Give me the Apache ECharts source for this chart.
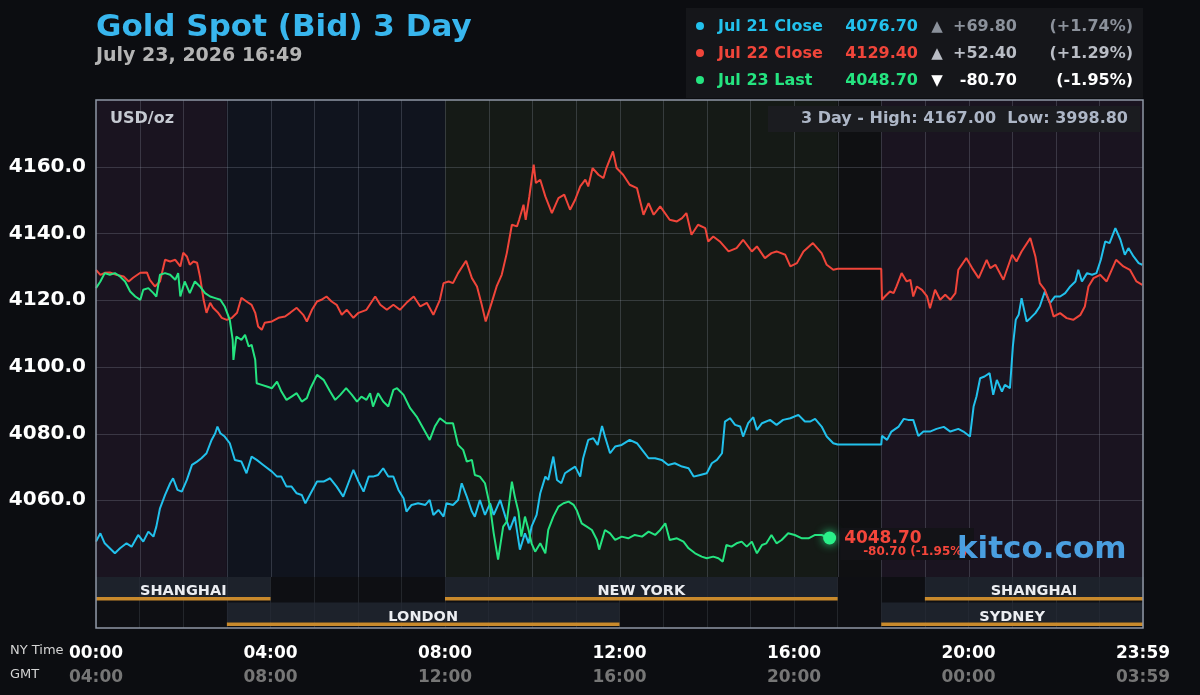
<!DOCTYPE html>
<html>
<head>
<meta charset="utf-8">
<title>Gold Spot (Bid) 3 Day</title>
<script src="https://cdn.jsdelivr.net/npm/echarts@6/dist/echarts.min.js"></script>
<style>
  html, body { margin: 0; padding: 0; background: #0c0d11; }
  #chart { width: 1200px; height: 695px; }
</style>
</head>
<body>
<div id="chart"></div>
<script type="text/javascript">
// minutes after NY midnight, price (USD/oz)
var jul21 = [[0,4047.6],[6,4050.1],[12,4047.1],[19,4045.6],[26,4044.1],[33,4045.6],[42,4047.1],[49,4046.1],[58,4049.6],[65,4047.6],[72,4050.6],[79,4049.1],[83,4052.1],[88,4057.6],[95,4061.6],[102,4065.1],[106,4066.6],[112,4063.1],[118,4062.6],[125,4066.1],[132,4070.6],[139,4071.6],[145,4072.6],[152,4074.1],[159,4078.1],[164,4080.1],[167,4082.1],[171,4080.1],[177,4079.1],[184,4077.1],[191,4072.1],[200,4071.6],[207,4068.1],[214,4073.1],[221,4072.1],[230,4070.6],[242,4068.6],[249,4067.1],[255,4067.1],[262,4064.1],[269,4064.1],[276,4062.1],[283,4061.6],[288,4059.1],[294,4061.6],[304,4065.6],[313,4065.6],[322,4066.6],[331,4064.1],[340,4061.1],[347,4065.1],[354,4069.1],[361,4065.6],[368,4062.6],[375,4067.1],[381,4067.1],[388,4067.6],[395,4069.6],[402,4067.1],[409,4067.1],[416,4063.1],[423,4060.6],[427,4056.6],[434,4058.6],[443,4059.1],[453,4058.6],[459,4060.1],[464,4055.6],[471,4057.1],[478,4055.1],[482,4059.1],[491,4058.6],[498,4060.1],[503,4065.1],[510,4061.1],[517,4056.6],[521,4055.1],[528,4060.1],[535,4055.6],[542,4059.1],[547,4055.6],[556,4060.1],[563,4055.1],[569,4051.1],[576,4055.1],[583,4045.2],[590,4050.1],[595,4047.1],[599,4052.1],[606,4055.6],[611,4062.1],[618,4067.1],[622,4066.1],[629,4073.1],[634,4066.1],[640,4065.1],[645,4068.1],[652,4069.1],[659,4070.1],[666,4067.1],[670,4072.6],[677,4078.1],[684,4078.6],[690,4076.6],[696,4082.3],[700,4079.1],[707,4074.1],[714,4076.1],[723,4076.6],[734,4078.1],[744,4077.1],[753,4074.6],[760,4072.6],[769,4072.6],[778,4072.1],[787,4070.6],[796,4071.1],[806,4070.1],[815,4069.6],[822,4067.1],[831,4067.6],[840,4068.1],[847,4071.1],[854,4072.1],[861,4074.1],[865,4083.6],[872,4084.6],[879,4082.6],[886,4082.1],[890,4079.1],[897,4083.1],[904,4084.9],[909,4081.1],[916,4083.1],[927,4084.1],[936,4082.6],[945,4084.1],[955,4084.6],[966,4085.6],[975,4083.6],[982,4083.6],[989,4084.4],[998,4082.1],[1005,4079.1],[1014,4077.1],[1020,4076.7],[1080,4076.7],[1081,4079.3],[1088,4078.1],[1094,4080.6],[1104,4082.1],[1111,4084.4],[1117,4084.1],[1124,4084.1],[1131,4079.3],[1138,4080.6],[1147,4080.6],[1156,4081.4],[1166,4082.0],[1175,4080.6],[1186,4081.4],[1193,4080.6],[1202,4079.1],[1207,4088.1],[1211,4091.1],[1216,4096.6],[1222,4097.1],[1229,4098.1],[1234,4091.6],[1239,4096.1],[1246,4092.6],[1250,4094.6],[1257,4093.6],[1261,4106.1],[1265,4114.1],[1269,4115.6],[1273,4120.6],[1280,4113.6],[1285,4114.6],[1292,4116.1],[1298,4118.1],[1305,4122.6],[1312,4119.1],[1319,4121.1],[1326,4121.1],[1333,4122.1],[1340,4124.1],[1347,4125.6],[1351,4129.1],[1356,4125.6],[1363,4128.1],[1370,4127.6],[1376,4128.1],[1382,4132.1],[1388,4137.6],[1394,4137.1],[1402,4141.6],[1409,4138.1],[1415,4133.6],[1420,4135.6],[1427,4133.1],[1434,4131.1],[1439,4130.6]];

var jul22 = [[0,4129.1],[6,4127.6],[12,4128.2],[19,4128.3],[28,4127.6],[38,4127.1],[45,4125.6],[51,4126.7],[61,4128.2],[70,4128.3],[74,4126.1],[81,4124.1],[88,4125.6],[95,4132.1],[102,4131.6],[109,4132.1],[116,4130.1],[120,4134.2],[125,4133.1],[129,4130.6],[134,4131.6],[139,4131.2],[143,4127.1],[148,4120.1],[152,4116.2],[157,4119.2],[161,4117.7],[168,4116.2],[173,4114.7],[180,4114.1],[187,4114.7],[194,4116.2],[200,4120.7],[207,4119.6],[214,4118.6],[219,4116.2],[223,4112.1],[228,4111.1],[232,4113.2],[242,4113.6],[251,4114.7],[260,4115.1],[267,4116.2],[276,4117.7],[285,4115.6],[290,4113.6],[297,4117.1],[304,4119.6],[310,4120.1],[317,4121.1],[324,4119.6],[331,4118.6],[338,4115.6],[345,4117.1],[354,4114.7],[361,4116.2],[372,4117.1],[384,4121.1],[391,4118.6],[400,4117.1],[409,4118.6],[418,4117.1],[427,4119.2],[437,4121.1],[446,4118.1],[455,4119.2],[464,4115.6],[473,4120.1],[478,4125.1],[485,4125.6],[491,4125.1],[498,4128.1],[509,4131.8],[517,4126.6],[524,4124.1],[530,4119.1],[536,4113.6],[544,4119.1],[551,4124.1],[558,4127.6],[565,4134.1],[572,4142.6],[579,4142.1],[582,4144.1],[588,4148.6],[591,4144.1],[596,4151.1],[602,4160.6],[605,4155.1],[611,4156.1],[618,4151.1],[627,4146.1],[636,4150.6],[644,4151.6],[652,4147.1],[659,4150.1],[666,4154.1],[673,4156.1],[677,4154.1],[683,4159.6],[691,4157.6],[698,4156.6],[702,4159.6],[711,4164.6],[716,4159.6],[725,4157.6],[734,4154.6],[744,4153.6],[753,4145.6],[760,4149.1],[767,4145.6],[776,4148.1],[789,4144.1],[799,4143.6],[806,4144.6],[812,4146.1],[819,4139.6],[828,4142.6],[838,4141.6],[842,4137.6],[849,4139.1],[858,4137.6],[870,4134.6],[881,4135.6],[890,4138.1],[902,4134.6],[909,4136.1],[920,4132.6],[929,4134.1],[936,4134.6],[948,4133.6],[955,4130.1],[964,4131.1],[973,4134.6],[986,4137.1],[998,4134.1],[1005,4130.6],[1014,4129.1],[1020,4129.4],[1080,4129.4],[1081,4120.1],[1085,4121.1],[1092,4122.6],[1097,4122.1],[1101,4124.1],[1108,4128.1],[1115,4125.6],[1120,4126.1],[1124,4121.1],[1129,4124.1],[1136,4123.1],[1143,4121.1],[1147,4117.6],[1154,4123.1],[1161,4120.1],[1168,4121.6],[1175,4120.1],[1182,4122.1],[1186,4129.1],[1197,4132.6],[1205,4129.6],[1214,4126.6],[1225,4132.1],[1230,4129.6],[1237,4130.6],[1248,4126.1],[1260,4133.6],[1266,4131.6],[1273,4134.6],[1285,4138.6],[1292,4133.1],[1298,4125.1],[1305,4123.1],[1312,4119.1],[1317,4115.1],[1326,4116.1],[1335,4114.6],[1344,4114.1],[1354,4115.6],[1360,4118.1],[1365,4124.1],[1372,4126.6],[1381,4127.6],[1390,4125.6],[1403,4132.1],[1413,4130.1],[1422,4129.1],[1431,4125.6],[1439,4124.6]];

var jul23 = [[0,4123.6],[6,4125.6],[12,4128.1],[19,4127.6],[26,4128.1],[33,4127.1],[40,4125.6],[47,4122.6],[54,4121.1],[61,4120.1],[65,4123.1],[72,4123.6],[79,4122.1],[83,4121.1],[88,4127.6],[95,4128.1],[102,4127.6],[109,4126.1],[113,4128.1],[116,4121.1],[122,4125.6],[129,4122.1],[136,4125.6],[143,4124.1],[150,4122.1],[157,4121.1],[164,4120.6],[171,4120.1],[177,4118.1],[184,4114.1],[188,4108.1],[189,4102.1],[193,4109.1],[200,4108.1],[205,4109.6],[210,4106.1],[214,4106.6],[219,4102.1],[221,4095.1],[228,4094.6],[235,4094.1],[242,4093.6],[249,4095.6],[255,4092.6],[262,4090.1],[269,4091.1],[276,4092.1],[283,4089.6],[290,4090.6],[295,4093.6],[304,4097.6],[313,4096.1],[322,4092.6],[329,4090.1],[336,4091.6],[344,4093.6],[352,4091.6],[359,4089.6],[365,4091.1],[372,4090.1],[377,4092.1],[381,4088.1],[388,4092.1],[395,4089.6],[402,4088.1],[409,4093.1],[414,4093.6],[423,4091.6],[432,4087.6],[441,4085.1],[450,4081.6],[459,4078.1],[466,4082.1],[473,4084.6],[482,4083.1],[491,4083.1],[498,4076.6],[505,4075.1],[510,4071.6],[517,4072.1],[521,4067.6],[528,4067.1],[535,4065.1],[542,4058.1],[547,4050.1],[553,4042.2],[560,4052.1],[565,4053.6],[572,4065.6],[576,4061.1],[581,4056.6],[585,4049.1],[590,4055.1],[595,4051.1],[599,4047.1],[604,4044.6],[611,4047.1],[618,4044.1],[622,4051.1],[629,4055.1],[636,4058.1],[643,4059.1],[650,4059.6],[657,4058.6],[661,4057.1],[668,4053.1],[675,4052.1],[682,4051.1],[689,4048.1],[692,4045.2],[700,4051.1],[707,4050.1],[714,4048.1],[723,4049.1],[732,4048.6],[741,4049.6],[751,4049.1],[760,4050.6],[769,4049.6],[776,4051.1],[783,4053.1],[789,4048.1],[799,4048.6],[808,4047.6],[815,4045.6],[824,4044.1],[833,4043.1],[840,4042.6],[849,4043.1],[856,4042.6],[862,4041.6],[867,4046.6],[874,4046.1],[881,4047.1],[888,4047.6],[895,4046.1],[902,4047.6],[909,4044.1],[916,4046.6],[922,4047.1],[929,4049.6],[936,4047.1],[943,4048.1],[952,4050.1],[961,4049.6],[971,4048.6],[980,4048.6],[989,4049.6],[998,4049.6],[1009,4048.7]];

var dayNames = ['Jul 21 Close', 'Jul 22 Close', 'Jul 23 Last'];
var dayPrices = [4076.70, 4129.40, 4048.70];
var dayChanges = [69.80, 52.40, -80.70];
var dayPercents = [1.74, 1.29, -1.95];
var threeDayHigh = 4167.00;
var threeDayLow = 3998.80;

var priceTicks = [4060, 4080, 4100, 4120, 4140, 4160];
var hourMarks = [60,120,180,240,300,360,420,480,540,600,660,720,780,840,900,960,1020,1080,1140,1200,1260,1320,1380];
var tickMinutes = [0, 240, 480, 720, 960, 1200, 1440];
var nyTickLabels = ['00:00', '04:00', '08:00', '12:00', '16:00', '20:00', '23:59'];
var gmtTickLabels = ['04:00', '08:00', '12:00', '16:00', '20:00', '00:00', '03:59'];

// background bands: [start, end] in minutes
var bands = [[0, 180], [180, 480], [480, 1020], [1020, 1080], [1080, 1440]];
// trading sessions: [start, row, end]
var sessionNames = ['SHANGHAI', 'NEW YORK', 'SHANGHAI', 'LONDON', 'SYDNEY'];
var sessions = [[0, 0, 240], [480, 0, 1020], [1140, 0, 1440], [180, 1, 720], [1080, 1, 1440]];

var bandColors = ['#1a1420', '#10141e', '#151a16', '#0f1012', '#1a1420'];
var dayColors = ['#22c1ec', '#f0453a', '#25e480'];
var changeColors = ['#8b919b', '#b9bdc5', '#ffffff'];
var FONT = '"DejaVu Sans", Verdana, sans-serif';

function fmt(v) { return v.toFixed(2); }

function buildLegend() {
    var els = [{ type: 'rect', shape: { x: 686, y: 8, width: 457, height: 90 }, style: { fill: '#15161a' } }];
    for (var i = 0; i < dayNames.length; i++) {
        var y = 27 + i * 27;
        var up = dayChanges[i] >= 0;
        var font = 'bold 16px ' + FONT;
        els.push({ type: 'circle', shape: { cx: 700, cy: y - 1, r: 4 }, style: { fill: dayColors[i] } });
        els.push({ type: 'text', x: 718, y: y, style: { text: dayNames[i], font: font, fill: dayColors[i], textAlign: 'left', align: 'left', textVerticalAlign: 'middle', verticalAlign: 'middle' } });
        els.push({ type: 'text', x: 918, y: y, style: { text: fmt(dayPrices[i]), font: font, fill: dayColors[i], textAlign: 'right', align: 'right', textVerticalAlign: 'middle', verticalAlign: 'middle' } });
        els.push({ type: 'text', x: 937, y: y, style: { text: up ? '\u25B2' : '\u25BC', font: 'bold 15px ' + FONT, fill: changeColors[i], textAlign: 'center', align: 'center', textVerticalAlign: 'middle', verticalAlign: 'middle' } });
        els.push({ type: 'text', x: 1017, y: y, style: { text: (up ? '+' : '') + fmt(dayChanges[i]), font: font, fill: changeColors[i], textAlign: 'right', align: 'right', textVerticalAlign: 'middle', verticalAlign: 'middle' } });
        els.push({ type: 'text', x: 1133, y: y, style: { text: '(' + (up ? '+' : '') + fmt(dayPercents[i]) + '%)', font: font, fill: changeColors[i], textAlign: 'right', align: 'right', textVerticalAlign: 'middle', verticalAlign: 'middle' } });
    }
    return els;
}

function textEl(x, y, text, font, fill, align) {
    return { type: 'text', x: x, y: y, z: 100, style: { text: text, font: font, fill: fill, textAlign: align || 'left', align: align || 'left', textVerticalAlign: 'middle', verticalAlign: 'middle' } };
}

var myChart = echarts.init(document.getElementById('chart'), null, { renderer: 'canvas' });

var lastPoint = jul23[jul23.length - 1];

var option = {
    animation: false,
    backgroundColor: '#0c0d11',
    textStyle: { fontFamily: FONT },
    grid: [
        { left: 96, top: 100, width: 1047, height: 477 },
        { left: 96, top: 577, width: 1047, height: 51, show: true, backgroundColor: '#0e0f13', borderWidth: 0 }
    ],
    xAxis: [
        { type: 'value', gridIndex: 0, min: 0, max: 1440, axisLine: { show: false }, axisTick: { show: false }, axisLabel: { show: false }, splitLine: { show: false } },
        {
            type: 'value', gridIndex: 1, min: 0, max: 1440, interval: 60,
            axisLine: { show: false }, axisTick: { show: false },
            splitLine: { show: true, lineStyle: { color: 'rgba(150,160,175,0.16)', width: 1 } },
            axisLabel: {
                margin: 14, showMinLabel: true, showMaxLabel: true,
                formatter: function (v) {
                    var i = tickMinutes.indexOf(v);
                    return i < 0 ? '' : '{ny|' + nyTickLabels[i] + '}\n{gmt|' + gmtTickLabels[i] + '}';
                },
                rich: {
                    ny: { fontSize: 17, fontWeight: 'bold', color: '#ffffff', lineHeight: 24, fontFamily: FONT },
                    gmt: { fontSize: 17, fontWeight: 'bold', color: '#767676', lineHeight: 24, fontFamily: FONT }
                }
            }
        }
    ],
    yAxis: [
        {
            type: 'value', gridIndex: 0, min: 4037, max: 4180, splitNumber: 7,
            axisLine: { show: false }, axisTick: { show: false }, splitLine: { show: false },
            axisLabel: {
                customValues: priceTicks, margin: 10, fontSize: 20, fontWeight: 'bold', color: '#ffffff', fontFamily: FONT,
                formatter: function (v) { return priceTicks.indexOf(v) >= 0 ? v.toFixed(1) : ''; }
            }
        },
        { type: 'category', gridIndex: 1, data: ['0', '1'], inverse: true, show: false }
    ],
    series: [
        {
            name: 'bands', type: 'custom', xAxisIndex: 0, yAxisIndex: 0, z: 1, silent: true,
            data: bands,
            renderItem: function (params, api) {
                var cs = params.coordSys;
                var a = api.coord([api.value(0), 4100]);
                var b = api.coord([api.value(1), 4100]);
                return { type: 'rect', shape: { x: a[0], y: cs.y, width: b[0] - a[0], height: cs.height }, style: { fill: bandColors[params.dataIndex] } };
            }
        },
        {
            name: 'gridlines', type: 'custom', xAxisIndex: 0, yAxisIndex: 0, z: 2, silent: true,
            data: [[0, 4100]],
            renderItem: function (params, api) {
                var cs = params.coordSys;
                var kids = [];
                var stroke = 'rgba(150,160,175,0.26)';
                priceTicks.forEach(function (v) {
                    var y = Math.round(api.coord([0, v])[1]) + 0.5;
                    kids.push({ type: 'line', shape: { x1: cs.x, y1: y, x2: cs.x + cs.width, y2: y }, style: { stroke: stroke, lineWidth: 1 } });
                });
                hourMarks.forEach(function (m) {
                    var x = Math.round(api.coord([m, 4100])[0]) + 0.5;
                    kids.push({ type: 'line', shape: { x1: x, y1: cs.y, x2: x, y2: cs.y + cs.height }, style: { stroke: stroke, lineWidth: 1 } });
                });
                return { type: 'group', children: kids };
            }
        },
        { name: 'Jul 21', type: 'line', xAxisIndex: 0, yAxisIndex: 0, z: 5, data: jul21, showSymbol: false, lineStyle: { color: dayColors[0], width: 2 }, itemStyle: { color: dayColors[0] } },
        { name: 'Jul 22', type: 'line', xAxisIndex: 0, yAxisIndex: 0, z: 5, data: jul22, showSymbol: false, lineStyle: { color: dayColors[1], width: 2 }, itemStyle: { color: dayColors[1] } },
        { name: 'Jul 23', type: 'line', xAxisIndex: 0, yAxisIndex: 0, z: 5, data: jul23, showSymbol: false, lineStyle: { color: dayColors[2], width: 2 }, itemStyle: { color: dayColors[2] } },
        {
            name: 'last', type: 'scatter', xAxisIndex: 0, yAxisIndex: 0, z: 6,
            data: [lastPoint], symbolSize: 13,
            itemStyle: { color: '#2af089', opacity: 1, shadowBlur: 10, shadowColor: 'rgba(42,240,137,0.9)' },
            label: {
                show: true, position: 'right', distance: 4, offset: [0, 6],
                backgroundColor: '#131317', padding: [3, 6, 3, 4],
                formatter: '{a|' + fmt(dayPrices[2]) + '}\n{b|' + fmt(dayChanges[2]) + ' (' + fmt(dayPercents[2]) + '%)}',
                rich: {
                    a: { fontSize: 17, fontWeight: 'bold', color: '#f4463b', lineHeight: 15, fontFamily: FONT },
                    b: { fontSize: 12, fontWeight: 'bold', color: '#f4463b', lineHeight: 11, padding: [0, 0, 0, 19], fontFamily: FONT }
                }
            }
        },
        {
            name: 'sessions', type: 'custom', xAxisIndex: 1, yAxisIndex: 1, z: 3, silent: true,
            data: sessions,
            renderItem: function (params, api) {
                var s = api.coord([api.value(0), api.value(1)]);
                var e = api.coord([api.value(2), api.value(1)]);
                var h = api.size([0, 1])[1];
                var top = s[1] - h / 2;
                return {
                    type: 'group', children: [
                        { type: 'rect', shape: { x: s[0], y: top, width: e[0] - s[0], height: h * 0.78 }, style: { fill: 'rgba(36,41,53,0.72)' } },
                        { type: 'rect', shape: { x: s[0], y: top + h * 0.78, width: e[0] - s[0], height: 3.5 }, style: { fill: '#c98a2c' } },
                        { type: 'text', style: { text: sessionNames[params.dataIndex], x: (s[0] + e[0]) / 2, y: top + h * 0.57, font: 'bold 14.5px ' + FONT, fill: '#eceef2', textAlign: 'center', align: 'center', textVerticalAlign: 'middle', verticalAlign: 'middle' } }
                    ]
                };
            }
        }
    ],
    graphic: {
        elements: [
            { type: 'rect', z: 100, shape: { x: 96, y: 100, width: 1047, height: 528 }, style: { fill: 'none', stroke: '#8f97a5', lineWidth: 1.5 } },
            textEl(96, 28, 'Gold Spot (Bid) 3 Day', 'bold 31px ' + FONT, '#38b6ee'),
            textEl(96, 56, 'July 23, 2026 16:49', 'bold 19px ' + FONT, '#b4b4b4'),
            textEl(110, 119, 'USD/oz', 'bold 16px ' + FONT, '#c6cad2'),
            { type: 'rect', z: 99, shape: { x: 768, y: 106, width: 372, height: 26 }, style: { fill: '#1b1c20' } },
            textEl(1128, 119, '3 Day - High: ' + fmt(threeDayHigh) + '  Low: ' + fmt(threeDayLow), 'bold 16px ' + FONT, '#adb6c6', 'right'),
            textEl(957, 550, 'kitco.com', 'bold 31px ' + FONT, '#4a9fe0'),
            textEl(10, 651, 'NY Time', '13px ' + FONT, '#d4d4d4'),
            textEl(10, 675, 'GMT', '13px ' + FONT, '#d4d4d4')
        ].concat(buildLegend())
    }
};

myChart.setOption(option);
</script>
</body>
</html>
